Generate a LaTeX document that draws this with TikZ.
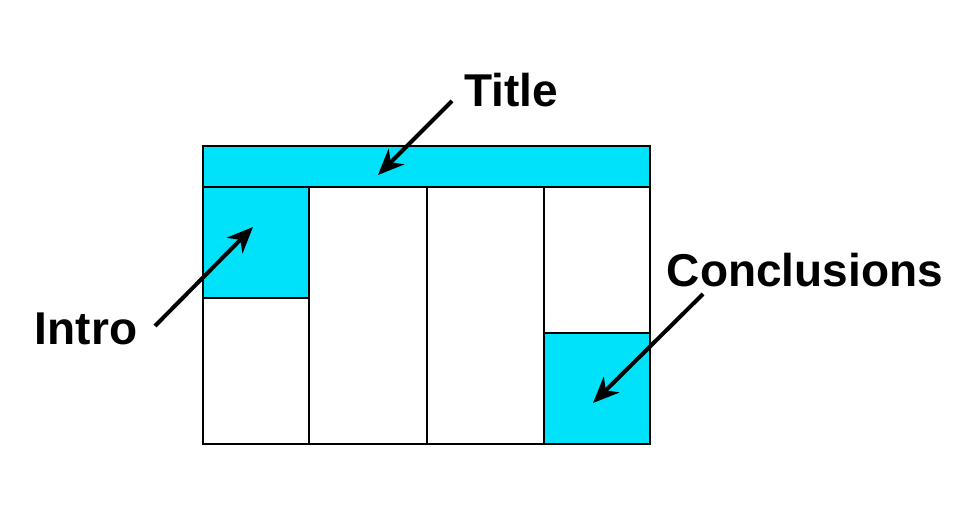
\documentclass[tikz,border=0pt]{standalone}
\usepackage{fontspec}
\setmainfont{Liberation Sans}
\usetikzlibrary{arrows.meta}
\definecolor{panelcyan}{RGB}{0,225,250}
\tikzset{
  cell/.style={draw=black, line width=1.8pt, inner sep=0pt, outer sep=0pt, anchor=north west},
  lbl/.style={font=\fontsize{46}{50}\selectfont\bfseries, inner sep=0pt},
  pointer/.style={line width=4pt, -{Stealth[length=26pt,width=22pt,inset=8pt]}},
}
\begin{document}
\begin{tikzpicture}[x=1pt,y=-1pt]
\useasboundingbox (0,0) rectangle (977,518);
% cells
\node[cell, fill=panelcyan, minimum width=106pt, minimum height=111pt] (intro) at (203,187) {};
\node[cell, fill=white, minimum width=106pt, minimum height=146pt] (introlow) at (203,298) {};
\node[cell, fill=white, minimum width=118pt, minimum height=257pt] (col2) at (309,187) {};
\node[cell, fill=white, minimum width=117pt, minimum height=257pt] (col3) at (427,187) {};
\node[cell, fill=white, minimum width=106pt, minimum height=146pt] (col4) at (544,187) {};
\node[cell, fill=panelcyan, minimum width=106pt, minimum height=111pt] (concl) at (544,333) {};
\node[cell, fill=panelcyan, minimum width=447pt, minimum height=41pt] (title) at (203,146) {};
% labels
\node[lbl] (tTitle) at (511,90) {Title};
\node[lbl] (tIntro) at (86,329) {Intro};
\node[lbl] (tConcl) at (805,270) {Conclusions};
% pointer ends
\coordinate (aT) at (452,101);
\coordinate (bT) at (378,175);
\coordinate (aI) at (155,326);
\coordinate (bI) at (253,227);
\coordinate (aC) at (703,294);
\coordinate (bC) at (593,403);
\draw[pointer] (aT) -- (bT);
\draw[pointer] (aI) -- (bI);
\draw[pointer] (aC) -- (bC);
\end{tikzpicture}
\end{document}
